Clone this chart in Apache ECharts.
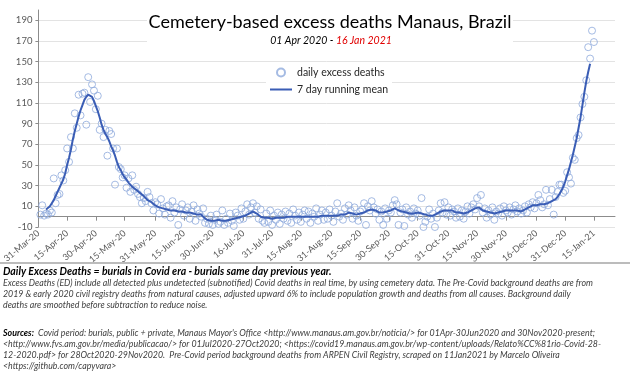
<!DOCTYPE html>
<html><head><meta charset="utf-8">
<script src="https://cdn.jsdelivr.net/npm/echarts@6/dist/echarts.min.js"></script>
<style>html,body{margin:0;padding:0;background:#fff}#c{width:630px;height:386px}</style>
</head><body><div id="c"></div>
<script>
// ---------- DATA ----------
// axis covers 31-Mar-20 .. 26-Jan-21 (daily categories)
const axisStart = Date.UTC(2020, 2, 31);
const axisDays = 302;
const monthNames = ['Jan','Feb','Mar','Apr','May','Jun','Jul','Aug','Sep','Oct','Nov','Dec'];
const categories = [];
for (let i = 0; i < axisDays; i++) {
  const d = new Date(axisStart + i * 86400000);
  categories.push(String(d.getUTCDate()).padStart(2,'0') + '-' + monthNames[d.getUTCMonth()] + '-' + String(d.getUTCFullYear()).slice(2));
}
const xTickLabels = ['31-Mar-20','15-Apr-20','30-Apr-20','15-May-20','31-May-20','15-Jun-20','30-Jun-20','16-Jul-20','31-Jul-20','15-Aug-20','31-Aug-20','15-Sep-20','30-Sep-20','15-Oct-20','31-Oct-20','15-Nov-20','30-Nov-20','16-Dec-20','31-Dec-20','15-Jan-21'];
const yTicks = [-10,10,30,50,70,90,110,130,150,170,190];

// daily excess deaths, 01-Apr-20 .. 15-Jan-21
const dailyExcess = [
  2, 11, 1, 3, 2, 6, 4, 37, 13, 21,
  22, 40, 35, 45, 66, 53, 77, 66, 100, 86,
  118, 98, 119, 120, 89, 135, 111, 128, 122, 104,
  117, 84, 90, 77, 84, 59, 83, 80, 66, 31,
  66, 48, 46, 38, 40, 28, 37, 24, 40, 26,
  29, 22, 19, 13, 18, 15, 24, 19, 13, 6,
  14, 12, 3, 17, 8, 2, 10, 11, -1, 15,
  4, 9, -8, 7, 12, 1, 6, 9, -2, 5,
  11, -4, 7, 3, 0, 8, -6, -2, -7, 1,
  -8, -3, 2, -7, -5, 6, -8, -2, -6, 3,
  -4, -9, 4, 1, -3, 8, -2, 5, 12, 2,
  9, 13, 4, 10, -2, 7, -4, -6, 3, -5,
  6, -8, 1, -3, 4, -7, 2, -2, 5, -4,
  3, -6, 7, 1, -3, 4, -5, 2, 6, -2,
  5, -6, 3, 0, 8, -4, 2, 6, -3, 4,
  -2, 7, 1, -5, 5, 13, 0, 3, -3, 8,
  2, 11, 6, -2, 9, 1, -4, 5, 7, 13,
  -8, 10, 6, 15, 9, 3, 7, -3, 5, -8,
  8, -2, 6, 4, 11, 16, 12, -8, 4, 7,
  -9, 9, 2, 5, -1, 8, 3, 6, 1, 18,
  -10, -5, 0, 7, -2, 3, -10, -1, 6, 13,
  4, 14, 2, 9, 1, 7, 5, -1, 8, 0,
  6, -2, 5, 10, 3, 9, 12, 7, 18, 10,
  21, 4, 8, -1, 6, 2, 9, -3, 5, 3,
  8, 1, 10, 6, 4, 9, 2, 7, 11, 5,
  8, 3, 6, 10, 4, 12, 9, 14, 8, 13,
  21, 16, 9, 12, 26, 11, 17, 26, 2, 19,
  24, 31, 31, 23, 25, 43, 38, 32, 57, 55,
  76, 79, 96, 109, 116, 132, 164, 153, 180, 169
];
// 7 day running mean, 04-Apr-20 .. 13-Jan-21
const runningMean = [
  7, 8, 10, 13, 16, 20, 24, 28, 32, 36,
  42, 50, 57, 65, 75, 83, 90, 97, 103, 108,
  113, 116, 118, 117, 116, 112, 107, 102, 96, 89,
  84, 80, 77, 73, 68, 64, 59, 53, 48, 45,
  41, 38, 36, 33, 31, 29, 28, 26, 25, 23,
  22, 20, 18, 16, 15, 14, 13, 11, 10, 9,
  8, 8, 7, 7, 7, 6, 6, 6, 5, 5,
  5, 5, 5, 4, 4, 4, 3, 3, 3, 2,
  2, 2, 0, -1, -3, -3, -4, -4, -4, -4,
  -3, -3, -4, -4, -4, -4, -3, -3, -2, -1,
  -1, 0, 0, 1, 1, 2, 3, 4, 5, 4,
  3, 2, 0, -1, -1, -1, -1, -2, -2, -2,
  -1, -1, -1, -1, -1, 0, 0, 0, 0, 0,
  0, 0, 0, 0, 0, 0, 0, 0, 0, 0,
  0, 0, 0, 0, 1, 1, 1, 1, 1, 1,
  1, 1, 1, 2, 2, 2, 2, 3, 4, 4,
  3, 2, 2, 2, 3, 3, 4, 5, 6, 6,
  7, 7, 6, 5, 4, 4, 4, 4, 5, 5,
  6, 7, 8, 8, 6, 5, 5, 4, 4, 3,
  3, 3, 3, 4, 4, 4, 3, 2, 2, 1,
  1, 1, 1, 2, 3, 4, 5, 6, 6, 6,
  6, 6, 6, 5, 4, 4, 4, 3, 3, 4,
  4, 5, 6, 7, 8, 9, 9, 8, 6, 5,
  5, 4, 4, 4, 3, 4, 4, 5, 5, 6,
  6, 6, 6, 6, 6, 6, 6, 6, 5, 6,
  7, 7, 9, 10, 11, 11, 11, 11, 12, 12,
  12, 13, 13, 14, 15, 16, 17, 19, 22, 25,
  29, 34, 40, 46, 53, 60, 68, 76, 86, 96,
  108, 120, 131, 140, 148
];
const dailyStartIndex = 1;   // 01-Apr-20
const meanStartIndex = 4;    // 04-Apr-20

// ---------- CHART ----------
const dailySeries = categories.map((c, i) => { const k = i - dailyStartIndex; return (k >= 0 && k < dailyExcess.length) ? dailyExcess[k] : null; });
const meanSeries = categories.map((c, i) => { const k = i - meanStartIndex; return (k >= 0 && k < runningMean.length) ? runningMean[k] : null; });
const tickSet = new Set(xTickLabels);
const FONT = 'Lato, "Open Sans", sans-serif';

const chart = echarts.init(document.getElementById('c'), null, {renderer: 'canvas'});
chart.setOption({
  animation: false,
  backgroundColor: '#fff',
  grid: {left: 38, right: 15, top: 10, bottom: 159, containLabel: false},
  legend: {
    orient: 'vertical', left: 266, top: 65, itemGap: 6,
    itemWidth: 22, itemHeight: 8,
    backgroundColor: '#fff', padding: [2, 4],
    textStyle: {fontFamily: FONT, fontSize: 10.5, color: '#262626'},
    data: [
      {name: 'daily excess deaths'},
      {name: '7 day running mean', icon: 'path://M0,0 L22,0 L0,0 Z M0,8 L22,8 L0,8 Z M0,3.1 L22,3.1 L22,4.9 L0,4.9 Z', itemStyle: {color: '#3a5db5', borderWidth: 0}}
    ]
  },
  xAxis: [{
    type: 'category', data: categories, boundaryGap: false, position: 'bottom',
    axisLine: {show: false, onZero: false}, axisTick: {show: false},
    splitLine: {show: false},
    axisLabel: {interval: (i, v) => tickSet.has(v), rotate: 40, margin: 5,
      fontFamily: FONT, fontSize: 9, color: '#595959'}
  }, {
    type: 'category', data: categories, boundaryGap: false, position: 'bottom',
    axisLine: {show: true, onZero: true, lineStyle: {color: '#8c8c8c', width: 1}},
    axisTick: {show: true, interval: (i, v) => tickSet.has(v), length: 4, inside: false, lineStyle: {color: '#8c8c8c'}},
    axisLabel: {show: false}, splitLine: {show: false}
  }],
  yAxis: {
    type: 'value', min: -10, max: 200,
    axisLine: {show: true, lineStyle: {color: '#8c8c8c'}},
    axisTick: {show: true, length: 3, customValues: yTicks, lineStyle: {color: '#8c8c8c'}},
    axisLabel: {customValues: yTicks, fontFamily: FONT, fontSize: 9.5, color: '#595959', margin: 6},
    splitLine: {show: true, lineStyle: {color: '#e3e3e3', width: 1}}
  },
  series: [{
    name: 'daily excess deaths', type: 'scatter', data: dailySeries,
    symbol: 'circle', symbolSize: 7,
    itemStyle: {color: 'rgba(255,255,255,0)', borderColor: '#8faadc', borderWidth: 1},
    z: 2
  }, {
    name: '7 day running mean', type: 'line', data: meanSeries,
    symbol: 'none', connectNulls: false,
    lineStyle: {color: '#3a5db5', width: 2},
    itemStyle: {color: '#3a5db5'},
    z: 3
  }],
  graphic: [
    {type: 'rect', z: 50, shape: {x: 147, y: 11, width: 366, height: 40}, style: {fill: '#fff'}},
    {type: 'text', z: 51, x: 330, y: 22, style: {text: 'Cemetery-based excess deaths Manaus, Brazil',
      font: '18px Lato', fill: '#000', align: 'center', verticalAlign: 'middle'}},
    {type: 'text', z: 51, x: 331, y: 41, style: {
      text: '{a|01 Apr 2020 - }{b|16 Jan 2021}', align: 'center', verticalAlign: 'middle',
      rich: {a: {font: 'italic 10.5px Lato', fill: '#000'}, b: {font: 'italic 10.5px Lato', fill: '#e00000'}}}},
    {type: 'line', z: 51, shape: {x1: 0, y1: 263, x2: 630, y2: 263}, style: {stroke: '#a6a6a6', lineWidth: 1.5}},
    {type: 'text', z: 51, x: 3, y: 272, style: {text: 'Daily Excess Deaths = burials in Covid era - burials same day previous year.',
      font: 'italic bold 10.5px Lato', fill: '#000', verticalAlign: 'middle'}},
    {type: 'text', z: 51, x: 3, y: 278, style: {
      text: 'Excess Deaths (ED) include all detected plus undetected (subnotified) Covid deaths in real time, by using cemetery data. The Pre-Covid background deaths are from\n2019 & early 2020 civil registry deaths from natural causes, adjusted upward 6% to include population growth and deaths from all causes. Background daily\ndeaths are smoothed before subtraction to reduce noise.',
      font: 'italic 8.8px Lato', fill: '#404040', lineHeight: 10.8, verticalAlign: 'top'}},
    {type: 'text', z: 51, x: 3, y: 328, style: {
      text: '{s|Sources:}{t|  Covid period: burials, public + private, Manaus Mayor\'s Office <http://www.manaus.am.gov.br/noticia/> for 01Apr-30Jun2020 and 30Nov2020-present;}\n{t|<http://www.fvs.am.gov.br/media/publicacao/> for 01Jul2020-27Oct2020; <https://covid19.manaus.am.gov.br/wp-content/uploads/Relato%CC%81rio-Covid-28-}\n{t|12-2020.pdf> for 28Oct2020-29Nov2020.  Pre-Covid period background deaths from ARPEN Civil Registry, scraped on 11Jan2021 by Marcelo Oliveira}\n{t|<https://github.com/capyvara>}',
      verticalAlign: 'top',
      rich: {s: {font: 'italic bold 8.8px Lato', fill: '#000', lineHeight: 10.8}, t: {font: 'italic 8.8px Lato', fill: '#404040', lineHeight: 10.8}}}}
  ]
});
</script></body></html>
